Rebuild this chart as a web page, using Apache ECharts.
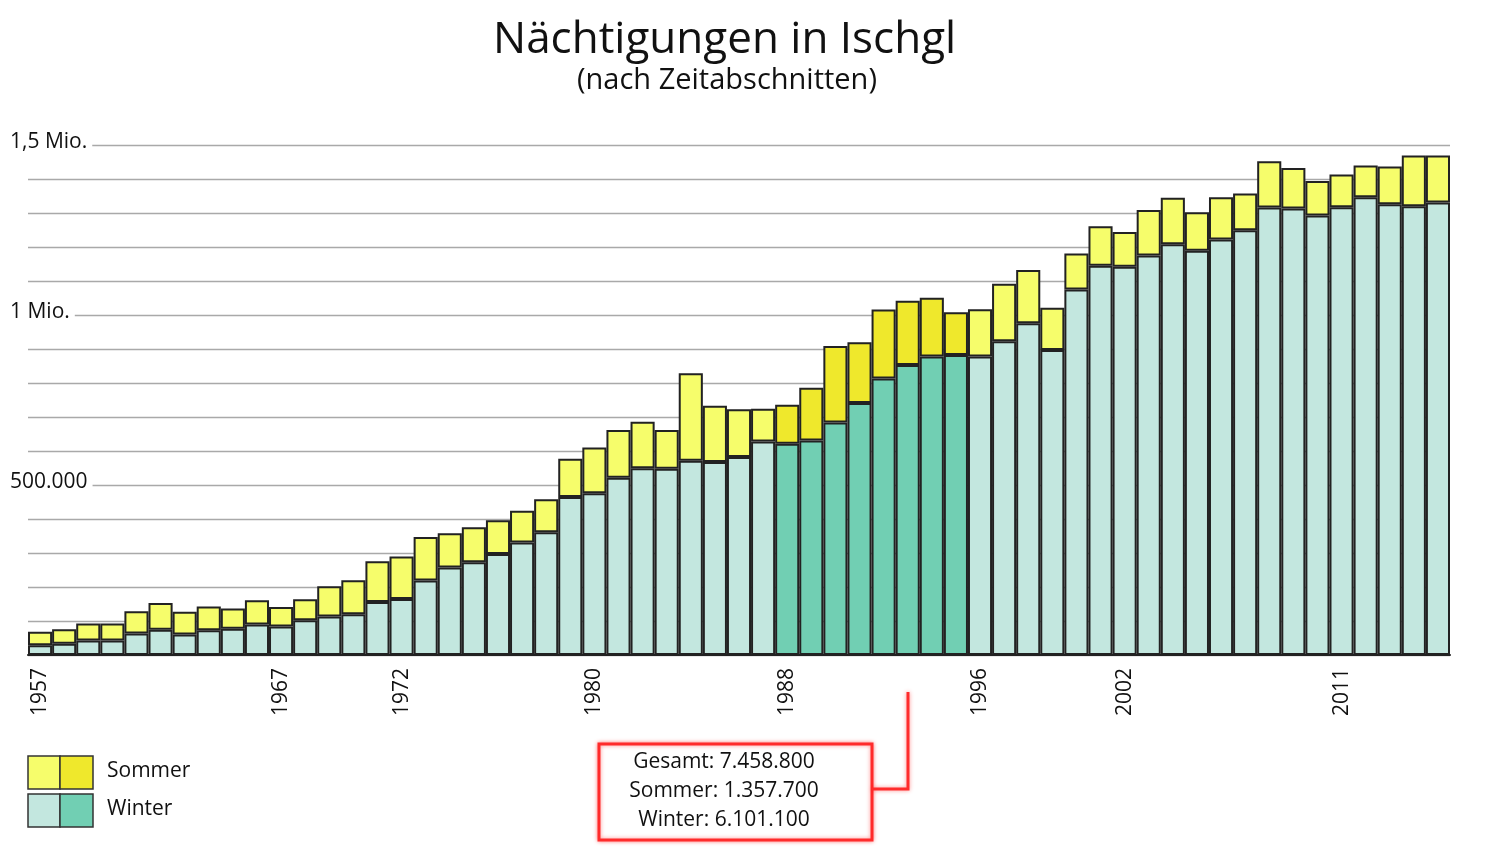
<!DOCTYPE html>
<html>
<head>
<meta charset="utf-8">
<script src="https://cdn.jsdelivr.net/npm/echarts@6/dist/echarts.min.js"></script>
<style>
html,body{margin:0;padding:0;background:#fff;}
#chart{width:1489px;height:853px;}
</style>
</head>
<body>
<div id="chart"></div>
<script>
// Data (values in overnight stays)
const years = ['1957','1958','1959','1960','1961','1962','1963','1964','1965','1966',
  '1967','1968','1969','1970','1971','1972','1973','1974','1975','1976',
  '1977','1978','1979','1980','1981','1982','1983','1984','1985','1986',
  '1987','1988','1989','1990','1991','1992','1993','1994','1995','1996',
  '1997','1998','1999','2000','2001','2002','2003','2004','2005','2006',
  '2007','2008','2009','2010','2011','2012','2013','2014','2015'];

const winter = [29000,33000,43000,43000,63000,74000,60000,73000,77000,90000,
  84000,102000,113000,120000,156000,165000,219000,257000,273000,297000,
  331000,361000,465000,476000,521000,549000,548000,571000,568000,582000,
  628000,621000,631000,684000,741000,813000,853000,878000,882000,878000,
  923000,976000,897000,1075000,1145000,1142000,1175000,1208000,1189000,1222000,
  1249000,1316000,1313000,1293000,1317000,1346000,1326000,1320000,1331000];

const total = [68500,75500,93000,93000,129000,153000,127000,143000,137000,161000,
  141000,164000,202000,220000,276000,290000,347000,358000,376000,396000,
  424000,458000,577000,610000,662000,686000,662000,829000,733000,723000,
  724000,736000,786000,909000,920000,1016000,1042000,1051000,1008000,1017000,
  1092000,1132000,1021000,1181000,1261000,1244000,1309000,1345000,1302000,1346000,
  1357000,1452000,1432000,1394000,1413000,1440000,1437000,1469000,1469000];

const highlightYears = ['1988','1989','1990','1991','1992','1993','1994','1995'];
const labelYears = ['1957','1967','1972','1980','1988','1996','2002','2011'];
const yTickLabels = {500000:'500.000', 1000000:'1 Mio.', 1500000:'1,5 Mio.'};
const boxLines = ['Gesamt: 7.458.800','Sommer: 1.357.700','Winter: 6.101.100'];

const C = {
  winterLight:'#c3e7df', winterDark:'#71cfb3',
  summerLight:'#f6fd6b', summerDark:'#efe82c',
  border:'#222222', grid:'#a9a9a9', red:'#ff2b2b'
};
const FONT = 'Open Sans';

const summer = total.map((t,i)=>t - winter[i]);

const winterData = winter.map((v,i)=>({
  value:v,
  itemStyle:{color: highlightYears.includes(years[i]) ? C.winterDark : C.winterLight}
}));
const summerData = summer.map((v,i)=>({
  value:v,
  itemStyle:{color: highlightYears.includes(years[i]) ? C.summerDark : C.summerLight}
}));

const chart = echarts.init(document.getElementById('chart'), null, {renderer:'canvas'});

const option = {
  animation:false,
  backgroundColor:'#fff',
  textStyle:{fontFamily:FONT},
  title:[
    {text:'Nächtigungen in Ischgl', left:488, top:13,
      textStyle:{fontFamily:FONT, fontSize:44, fontWeight:'normal', color:'#111'}},
    {text:'(nach Zeitabschnitten)', left:572, top:61,
      textStyle:{fontFamily:FONT, fontSize:29, fontWeight:'normal', color:'#111'}}
  ],
  grid:{left:28, right:39, top:145, bottom:198, containLabel:false},
  xAxis:{
    type:'category',
    data:years,
    boundaryGap:true,
    axisTick:{show:false},
    axisLine:{show:true, lineStyle:{color:'#222', width:2}},
    axisLabel:{
      rotate:90, margin:13, fontFamily:FONT, fontSize:21, color:'#111',
      interval:(idx, val)=>labelYears.includes(val)
    },
    splitLine:{show:false}
  },
  yAxis:{
    type:'value',
    min:0, max:1500000, interval:100000,
    axisLine:{show:false}, axisTick:{show:false},
    splitLine:{show:true, lineStyle:{color:C.grid, width:1.3}},
    axisLabel:{
      align:'left', margin:18, fontFamily:FONT, fontSize:21, color:'#111',
      formatter:(v)=> yTickLabels[v] ? '{a|' + yTickLabels[v] + '}' : '',
      rich:{a:{fontFamily:FONT, fontSize:21, color:'#111', backgroundColor:'#fff', padding:[1,5,6,0]}}
    }
  },
  series:[
    {name:'Winter', type:'bar', stack:'t', data:winterData, barCategoryGap:'0%',
      itemStyle:{borderColor:C.border, borderWidth:2}},
    {name:'Sommer', type:'bar', stack:'t', data:summerData, barCategoryGap:'0%',
      itemStyle:{borderColor:C.border, borderWidth:2}}
  ],
  graphic:[
    // legend swatches
    {type:'rect', shape:{x:28,y:756,width:32,height:33}, style:{fill:C.summerLight, stroke:'#333', lineWidth:1.5}},
    {type:'rect', shape:{x:60,y:756,width:33,height:33}, style:{fill:C.summerDark, stroke:'#333', lineWidth:1.5}},
    {type:'rect', shape:{x:28,y:794,width:32,height:33}, style:{fill:C.winterLight, stroke:'#333', lineWidth:1.5}},
    {type:'rect', shape:{x:60,y:794,width:33,height:33}, style:{fill:C.winterDark, stroke:'#333', lineWidth:1.5}},
    {type:'text', x:107, y:771, style:{text:'Sommer', fontFamily:FONT, fontSize:21, fill:'#111', verticalAlign:'middle'}},
    {type:'text', x:107, y:809, style:{text:'Winter', fontFamily:FONT, fontSize:21, fill:'#111', verticalAlign:'middle'}},
    // annotation box
    {type:'rect', shape:{x:599,y:744,width:273,height:96},
      style:{fill:'#fff', stroke:C.red, lineWidth:3, shadowBlur:4, shadowColor:'rgba(255,0,0,0.45)'}},
    {type:'polyline', shape:{points:[[872,789],[908,789],[908,692]]},
      style:{stroke:C.red, lineWidth:3, fill:null, shadowBlur:4, shadowColor:'rgba(255,0,0,0.45)'}},
    {type:'text', x:724, y:762, style:{text:boxLines[0], fontFamily:FONT, fontSize:21, fill:'#111', align:'center', verticalAlign:'middle'}},
    {type:'text', x:724, y:791, style:{text:boxLines[1], fontFamily:FONT, fontSize:21, fill:'#111', align:'center', verticalAlign:'middle'}},
    {type:'text', x:724, y:820, style:{text:boxLines[2], fontFamily:FONT, fontSize:21, fill:'#111', align:'center', verticalAlign:'middle'}}
  ]
};
chart.setOption(option);
</script>
</body>
</html>
